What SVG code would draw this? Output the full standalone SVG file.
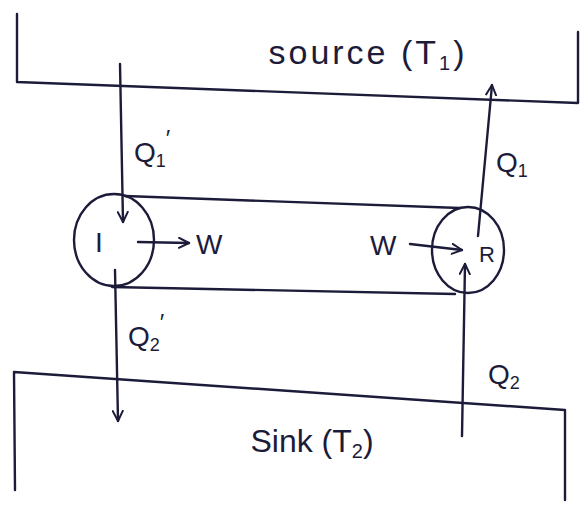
<svg xmlns="http://www.w3.org/2000/svg" width="587" height="506" viewBox="0 0 587 506">
<style>
.ln{fill:none;stroke:#1c1c3a;stroke-width:2.4;stroke-linecap:round;stroke-linejoin:round}
.tx{font-family:"Liberation Sans","DejaVu Sans",sans-serif;fill:#1c1c3a}
</style>
<defs>
<marker id="ah" viewBox="0 0 12 12" refX="11" refY="6" markerWidth="12" markerHeight="12" markerUnits="userSpaceOnUse" orient="auto">
<path d="M1,1 L11,6 L1,11" fill="none" stroke="#1c1c3a" stroke-width="2" stroke-linecap="round" stroke-linejoin="round"/>
</marker>
</defs>
<rect width="587" height="506" fill="#ffffff"/>
<g id="source">
<path class="ln" d="M17,14 L17,82 L578,103 L578,32"/>
<text class="tx" x="368" y="64" font-size="34" letter-spacing="3" text-anchor="middle">source (T<tspan font-size="20" dy="6">1</tspan><tspan dy="-6">)</tspan></text>
</g>
<g id="sink">
<path class="ln" d="M15,490 L14,372 L565,410 L565,500"/>
<text class="tx" x="312" y="452" font-size="32" text-anchor="middle">Sink (T<tspan font-size="20" dy="6">2</tspan><tspan dy="-6">)</tspan></text>
</g>
<g id="engineI">
<ellipse class="ln" cx="114" cy="240" rx="40" ry="46"/>
<text class="tx" x="95" y="252" font-size="28">I</text>
</g>
<g id="engineR">
<ellipse class="ln" cx="468" cy="250" rx="36" ry="43"/>
<text class="tx" x="479" y="262" font-size="22">R</text>
</g>
<g id="connectors">
<path class="ln" d="M125,196 L460,208"/>
<path class="ln" d="M112,287 L455,294"/>
<path class="ln" d="M120,64 L123,222" marker-end="url(#ah)"/>
<path class="ln" d="M115,270 L118,421" marker-end="url(#ah)"/>
<path class="ln" d="M138,242 L189,243" marker-end="url(#ah)"/>
<path class="ln" d="M410,244 L462,250" marker-end="url(#ah)"/>
<path class="ln" d="M478,236 L492,85" marker-end="url(#ah)"/>
<path class="ln" d="M462,436 L465,264" marker-end="url(#ah)"/>
</g>
<g id="labels">
<text class="tx" x="134" y="162" font-size="28">Q<tspan font-size="18" dy="5">1</tspan><tspan dy="-20" font-size="24">′</tspan></text>
<text class="tx" x="196" y="254" font-size="28">W</text>
<text class="tx" x="370" y="255" font-size="28">W</text>
<text class="tx" x="496" y="172" font-size="28">Q<tspan font-size="18" dy="5">1</tspan></text>
<text class="tx" x="128" y="346" font-size="28">Q<tspan font-size="18" dy="5">2</tspan><tspan dy="-20" font-size="24">′</tspan></text>
<text class="tx" x="488" y="384" font-size="28">Q<tspan font-size="18" dy="5">2</tspan></text>
</g>
</svg>
